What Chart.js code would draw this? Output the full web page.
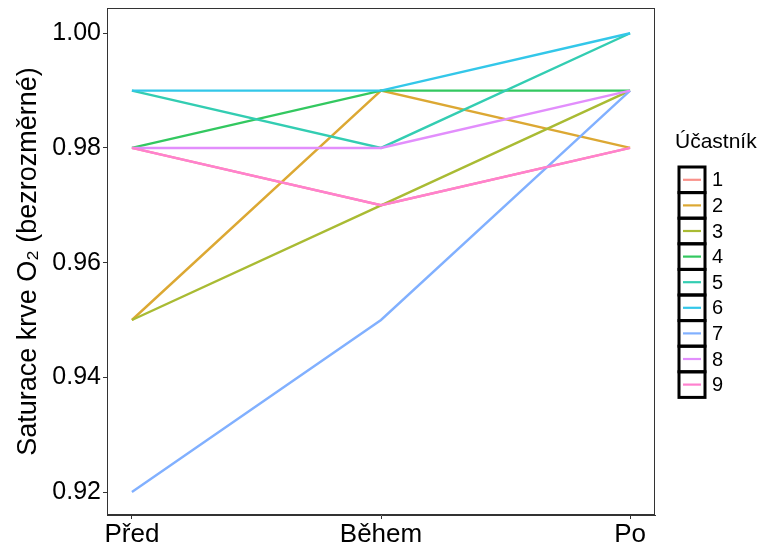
<!doctype html>
<html lang="cs">
<head>
<meta charset="utf-8">
<title>Saturace krve O2</title>
<style>
  body { margin: 0; background: #fff; }
  #chart { display: block; }
</style>
</head>
<body>
<canvas id="chart" width="765" height="547"></canvas>
<script src="https://cdn.jsdelivr.net/npm/chart.js"></script>
<script>
const categories = ['Před', 'Během', 'Po'];
const participants = ['1', '2', '3', '4', '5', '6', '7', '8', '9'];
const yTicks = [0.92, 0.94, 0.96, 0.98, 1.00];

// values per participant: Před, Během, Po
const p1 = [0.98, 0.97, 0.98];
const p2 = [0.95, 0.99, 0.98];
const p3 = [0.95, 0.97, 0.99];
const p4 = [0.98, 0.99, 0.99];
const p5 = [0.99, 0.98, 1.00];
const p6 = [0.99, 0.99, 1.00];
const p7 = [0.92, 0.95, 0.99];
const p8 = [0.98, 0.98, 0.99];
const p9 = [0.98, 0.97, 0.98];
const series = [p1, p2, p3, p4, p5, p6, p7, p8, p9];

const colors = ['#F8766D', '#D39200', '#93AA00', '#00BA38', '#00C19F',
                '#00B9E3', '#619CFF', '#DB72FB', '#FF61C3'];

const FONT = "'Liberation Sans', Arial, sans-serif";

// lighten toward white, stays opaque so overlapping lines hide each other
function soften(hex, a) {
  const n = parseInt(hex.slice(1), 16);
  const mix = c => Math.round(c * a + 255 * (1 - a));
  return `rgb(${mix(n >> 16)},${mix((n >> 8) & 255)},${mix(n & 255)})`;
}

// panel border + boxed legend like ggplot
const panelAndLegend = {
  id: 'panelAndLegend',
  afterDraw(chart) {
    const { ctx, chartArea: { left, right, top, bottom } } = chart;
    ctx.save();
    ctx.strokeStyle = '#333';
    ctx.lineWidth = 1;
    ctx.strokeRect(left + 0.5, top + 0.5, right - left - 1, bottom - top - 1);

    // legend
    const lx = 679, ly = 167, kw = 26, kh = 25.6;
    ctx.fillStyle = '#000';
    ctx.font = `21px ${FONT}`;
    ctx.textBaseline = 'middle';
    ctx.textAlign = 'left';
    ctx.fillText('Účastník', 675, 142);
    ctx.font = `20px ${FONT}`;
    participants.forEach((p, i) => {
      const y = ly + i * kh;
      ctx.strokeStyle = '#000';
      ctx.lineWidth = 3;
      ctx.strokeRect(lx, y, kw, kh);
      ctx.strokeStyle = soften(colors[i], 0.8);
      ctx.lineWidth = 2.2;
      ctx.beginPath();
      ctx.moveTo(lx + 4, y + kh / 2);
      ctx.lineTo(lx + kw - 4, y + kh / 2);
      ctx.stroke();
      ctx.fillStyle = '#000';
      ctx.fillText(p, 712, y + kh / 2 + 1);
    });
    ctx.restore();
  }
};

const datasets = series.map((vals, i) => ({
  label: participants[i],
  data: vals.map((v, j) => ({ x: j + 1, y: v })),
  borderColor: soften(colors[i], 0.8),
  borderWidth: 2.4,
  pointRadius: 0,
  fill: false,
  tension: 0,
  order: series.length - i  // later participants on top, as in ggplot
}));

new Chart(document.getElementById('chart'), {
  type: 'line',
  data: { datasets },
  options: {
    responsive: false,
    animation: false,
    layout: { padding: { left: 0, right: 110, top: 8, bottom: 0 } },
    plugins: {
      legend: { display: false },
      tooltip: { enabled: false }
    },
    scales: {
      x: {
        type: 'linear',
        min: 0.9,
        max: 3.1,
        afterBuildTicks: s => { s.ticks = categories.map((c, i) => ({ value: i + 1 })); },
        afterFit: s => { s.height = 32; s.paddingLeft = 0; s.paddingRight = 0; },
        ticks: {
          callback: v => categories[Math.round(v) - 1],
          color: '#000',
          font: { family: FONT, size: 26 },
          padding: 0,
          maxRotation: 0
        },
        grid: { display: true, drawOnChartArea: false, drawTicks: true, tickLength: 4, color: '#333' },
        border: { display: true, color: '#333' }
      },
      y: {
        min: 0.916,
        max: 1.0044,
        afterBuildTicks: s => { s.ticks = yTicks.map(v => ({ value: v })); },
        afterFit: s => { s.width = 107; s.paddingTop = 0; s.paddingBottom = 0; },
        ticks: {
          callback: v => v.toFixed(2),
          color: '#000',
          font: { family: FONT, size: 25 },
          padding: 2
        },
        title: {
          display: true,
          text: 'Saturace krve O₂ (bezrozměrné)',
          color: '#000',
          font: { family: FONT, size: 27 },
          padding: { top: 12, bottom: 4 }
        },
        grid: { display: true, drawOnChartArea: false, drawTicks: true, tickLength: 4, color: '#333' },
        border: { display: true, color: '#333' }
      }
    }
  },
  plugins: [panelAndLegend]
});
</script>
</body>
</html>
